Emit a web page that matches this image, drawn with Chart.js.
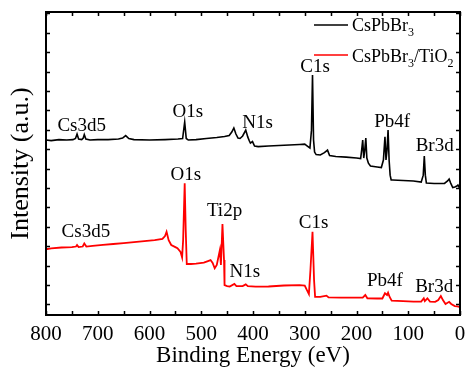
<!DOCTYPE html>
<html>
<head>
<meta charset="utf-8">
<script src="https://cdn.jsdelivr.net/npm/chart.js@4.4.0/dist/chart.umd.min.js"></script>
<style>
  html, body { margin: 0; padding: 0; background: #fff; }
</style>
</head>
<body>
<canvas id="xps" width="465" height="370"></canvas>
<script>
// XPS survey spectra, binding energy (eV) vs intensity (a.u.)
const energyBlack = [800,790,775,760,748,743,740,737,731,728,726,723,715,700,680,660,652,646,640,630,600,570,545,536,532,529,525,510,490,470,455,446,441,437,433,429,425,420,414,410,407,405,401,397,390,370,350,330,310,300,295,290,287,285,283,281,278,270,262,256,252,240,220,200,192,190,188,186,184,182,180,177,173,160,152,148,145,143,141,139,137,135,133,130,110,90,75,71,69,67,65,50,30,24,21,18,14,10,6,4,2,0];
const intensityBlack = [8.47,8.44,8.49,8.47,8.49,8.55,8.78,8.52,8.49,8.57,8.75,8.52,8.47,8.49,8.49,8.52,8.57,8.70,8.55,8.49,8.47,8.49,8.52,8.55,9.40,8.55,8.47,8.49,8.55,8.60,8.65,8.70,8.88,9.09,8.78,8.57,8.55,8.68,8.98,8.62,8.42,8.31,8.39,8.16,8.13,8.16,8.19,8.21,8.24,8.26,8.16,8.06,8.98,11.82,8.47,7.85,7.72,7.70,7.82,7.95,7.67,7.62,7.59,7.54,7.51,7.95,8.47,7.54,7.95,8.57,7.54,7.28,7.13,7.08,7.05,7.44,8.64,7.44,7.95,8.98,7.44,6.66,6.41,6.41,6.38,6.36,6.30,6.66,7.64,6.66,6.25,6.23,6.23,6.36,6.46,6.25,6.02,6.05,6.10,6.15,6.05,5.99];

const energyRed = [800,790,770,750,742,740,737,729,726,722,710,690,670,650,630,610,590,575,570,567,563,558,550,546,540,537,535,532,530,528,520,510,495,487,482,478,474,470,464,462,459,456,455,450,445,436,432,420,414,410,395,370,340,310,300,296,292,289,285,282,280,270,258,254,230,200,188,183,179,160,150,145,141,139,136,132,110,90,75,70,68,63,58,48,42,37,33,28,21,17,10,5,0];
const intensityRed = [2.84,2.88,2.93,2.95,2.98,3.06,2.95,2.98,3.14,2.98,3.01,3.06,3.11,3.16,3.21,3.26,3.31,3.37,3.52,3.74,3.31,3.06,2.95,2.89,2.70,2.42,3.31,6.24,3.83,2.08,2.08,2.10,2.15,2.23,2.28,2.13,1.86,2.03,2.80,2.03,4.14,2.28,0.99,0.94,0.92,1.05,0.94,0.94,1.03,0.94,0.91,0.92,0.97,0.99,0.97,0.74,0.53,1.77,3.74,1.25,0.39,0.38,0.45,0.36,0.35,0.35,0.35,0.48,0.31,0.30,0.30,0.57,0.48,0.60,0.38,0.19,0.17,0.14,0.14,0.31,0.17,0.31,0.14,0.13,0.22,0.43,0.22,0.02,0.13,0.02,-0.09,-0.11,-0.15];

// peak labels (text anchored at energy / intensity baseline)
const blackPeaks = ['Cs3d5','O1s','N1s','C1s','Pb4f','Br3d'];
const blackPeakE = [731, 526, 391, 280, 131, 49];
const blackPeakI = [8.91, 9.65, 9.09, 12.0, 9.16, 7.88];
const redPeaks = ['Cs3d5','O1s','Ti2p','N1s','C1s','Pb4f','Br3d'];
const redPeakE = [723, 530, 455, 416, 283, 145, 50];
const redPeakI = [3.49, 6.41, 4.55, 1.43, 3.96, 0.92, 0.61];

const xTickLabels = [0,100,200,300,400,500,600,700,800];
const xMinorTicks = [0,50,100,150,200,250,300,350,400,450,500,550,600,650,700,750,800];
const yTicks = [0,1,2,3,4,5,6,7,8,9,10,11,12,13,14,15];

const SERIF = '"Liberation Serif", "Times New Roman", serif';

const toXY = (xs, ys) => xs.map((e, i) => ({ x: e, y: ys[i] }));

// draws text pieces, some of them as subscripts
function drawRich(ctx, parts, x, y) {
    let cx = x;
    parts.forEach(([t, sub]) => {
        ctx.font = sub ? '12px ' + SERIF : '18px ' + SERIF;
        ctx.fillText(t, cx, sub ? y + 5 : y);
        cx += ctx.measureText(t).width;
    });
}

const framePlugin = {
    id: 'frame',
    afterDatasetsDraw(chart) {
        const { ctx, chartArea: a, scales: { x, y } } = chart;
        ctx.save();
        ctx.strokeStyle = '#000';
        ctx.lineWidth = 1.5;
        ctx.beginPath();
        xMinorTicks.forEach(v => {
            const px = Math.round(x.getPixelForValue(v)) + 0.5;
            ctx.moveTo(px, a.bottom); ctx.lineTo(px, a.bottom - 4);
            ctx.moveTo(px, a.top); ctx.lineTo(px, a.top + 4);
        });
        yTicks.forEach(v => {
            const py = Math.round(y.getPixelForValue(v)) + 0.5;
            ctx.moveTo(a.left, py); ctx.lineTo(a.left + 4, py);
            ctx.moveTo(a.right, py); ctx.lineTo(a.right - 4, py);
        });
        ctx.stroke();
        ctx.lineWidth = 2;
        ctx.strokeRect(a.left, a.top, a.right - a.left, a.bottom - a.top);

        // peak labels
        ctx.fillStyle = '#000';
        ctx.font = '19px ' + SERIF;
        ctx.textAlign = 'center';
        ctx.textBaseline = 'alphabetic';
        blackPeaks.forEach((t, i) => ctx.fillText(t, x.getPixelForValue(blackPeakE[i]), y.getPixelForValue(blackPeakI[i])));
        redPeaks.forEach((t, i) => ctx.fillText(t, x.getPixelForValue(redPeakE[i]), y.getPixelForValue(redPeakI[i])));

        // legend
        ctx.textAlign = 'left';
        const lx = a.right - 146;
        ctx.lineWidth = 1.5;
        ctx.strokeStyle = '#000';
        ctx.beginPath(); ctx.moveTo(lx, a.top + 13); ctx.lineTo(lx + 34, a.top + 13); ctx.stroke();
        ctx.strokeStyle = '#ff0000';
        ctx.beginPath(); ctx.moveTo(lx, a.top + 43); ctx.lineTo(lx + 34, a.top + 43); ctx.stroke();
        drawRich(ctx, [['CsPbBr', false], ['3', true]], lx + 38, a.top + 19);
        drawRich(ctx, [['CsPbBr', false], ['3', true], ['/TiO', false], ['2', true]], lx + 38, a.top + 50);
        ctx.restore();
    }
};

new Chart(document.getElementById('xps'), {
    type: 'line',
    data: {
        datasets: [
            { label: 'CsPbBr3', data: toXY(energyBlack, intensityBlack), borderColor: '#000000', borderWidth: 1.6, pointRadius: 0, tension: 0, fill: false },
            { label: 'CsPbBr3/TiO2', data: toXY(energyRed, intensityRed), borderColor: '#ff0000', borderWidth: 1.8, pointRadius: 0, tension: 0, fill: false }
        ]
    },
    options: {
        responsive: false,
        animation: false,
        layout: { padding: { top: 12, right: 5, left: 0, bottom: 0 } },
        plugins: { legend: { display: false }, tooltip: { enabled: false } },
        scales: {
            x: {
                type: 'linear',
                reverse: true,
                min: 0,
                max: 800,
                afterFit: s => { s.height = 55; },
                afterBuildTicks: s => { s.ticks = xTickLabels.map(v => ({ value: v })); },
                grid: { display: false, drawTicks: false },
                border: { display: false },
                ticks: { color: '#000', padding: 7, font: { family: SERIF, size: 21 }, maxRotation: 0, autoSkip: false },
                title: { display: true, text: 'Binding Energy (eV)', color: '#000', font: { family: SERIF, size: 23 }, padding: { top: 0, bottom: 0 } }
            },
            y: {
                min: -0.55,
                max: 15.07,
                afterFit: s => { s.width = 46; },
                grid: { display: false, drawTicks: false },
                border: { display: false },
                ticks: { display: false },
                title: { display: true, text: 'Intensity (a.u.)', color: '#000', font: { family: SERIF, size: 26 }, padding: { top: 6, bottom: 0 } }
            }
        }
    },
    plugins: [framePlugin]
});
</script>
</body>
</html>
